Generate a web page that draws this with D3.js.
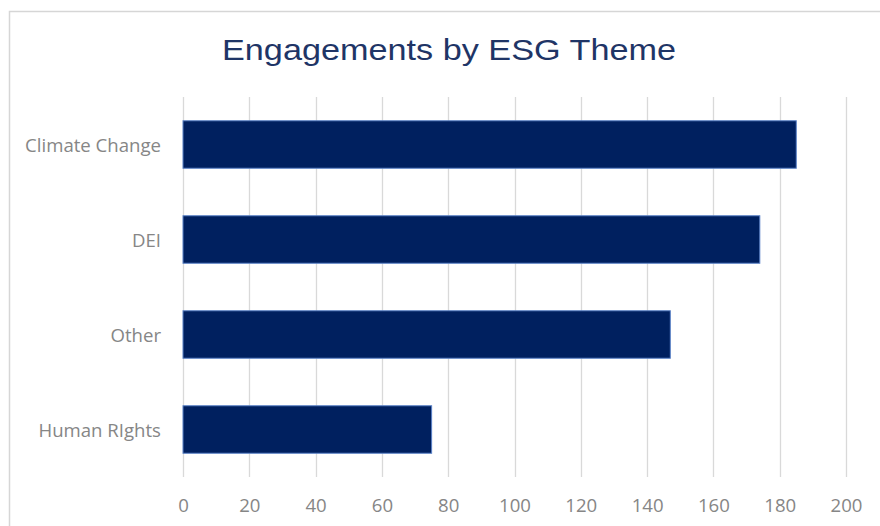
<!DOCTYPE html>
<html>
<head>
<meta charset="utf-8">
<script src="https://cdn.jsdelivr.net/npm/d3@7/dist/d3.min.js"></script>
<style>
  html, body { margin: 0; padding: 0; background: #ffffff; }
  svg { display: block; }
</style>
</head>
<body>
<svg id="chart" width="880" height="526"></svg>
<script>
// Engagement counts per ESG theme
const themes = ["Climate Change", "DEI", "Other", "Human RIghts"];
const engagements = [185, 174, 147, 75];
const xTicks = [0, 20, 40, 60, 80, 100, 120, 140, 160, 180, 200];
const chartTitle = "Engagements by ESG Theme";

const svg = d3.select("#chart");
const W = 880, H = 526;

// Chart frame: top and left edges only
svg.append("path")
  .attr("d", `M9.5,${H} V11.5 H${W}`)
  .attr("fill", "none")
  .attr("stroke", "#d6d6d6")
  .attr("stroke-width", 1.5);

svg.append("text")
  .attr("x", 449)
  .attr("y", 60)
  .attr("text-anchor", "middle")
  .attr("font-family", "'Liberation Sans', Arial, sans-serif")
  .attr("font-size", 30)
  .attr("textLength", 454)
  .attr("lengthAdjust", "spacingAndGlyphs")
  .attr("fill", "#1f3566")
  .text(chartTitle);

const plot = { left: 183, right: 846, top: 97, bottom: 477 };

const x = d3.scaleLinear()
  .domain([0, 200])
  .range([plot.left, plot.right]);

const y = d3.scaleBand()
  .domain(themes)
  .range([plot.top, plot.bottom])
  .paddingInner(0.5)
  .paddingOuter(0.25);

// Vertical gridlines
svg.append("g")
  .selectAll("line")
  .data(xTicks)
  .join("line")
  .attr("x1", d => Math.round(x(d)) + 0.5)
  .attr("x2", d => Math.round(x(d)) + 0.5)
  .attr("y1", plot.top)
  .attr("y2", plot.bottom)
  .attr("stroke", "#d9d9d9")
  .attr("stroke-width", 1.3);

// Bars
svg.append("g")
  .selectAll("rect")
  .data(themes)
  .join("rect")
  .attr("x", x(0))
  .attr("y", d => y(d))
  .attr("width", (d, i) => x(engagements[i]) - x(0))
  .attr("height", y.bandwidth())
  .attr("fill", "#00205f")
  .attr("stroke", "#5b82c8")
  .attr("stroke-width", 1);

// Category axis
const yAxis = svg.append("g")
  .attr("transform", `translate(${plot.left},2)`)
  .call(d3.axisLeft(y).tickSize(0).tickPadding(22));
yAxis.select(".domain").remove();
yAxis.selectAll("text")
  .attr("font-family", "'Open Sans', sans-serif")
  .attr("font-size", 18.6)
  .attr("fill", "#868686");

// Value axis
const xAxis = svg.append("g")
  .attr("transform", `translate(0,${plot.bottom})`)
  .call(d3.axisBottom(x).tickValues(xTicks).tickSize(0).tickPadding(22));
xAxis.select(".domain").remove();
xAxis.selectAll("text")
  .attr("font-family", "'Open Sans', sans-serif")
  .attr("font-size", 18.6)
  .attr("fill", "#868686");
</script>
</body>
</html>
